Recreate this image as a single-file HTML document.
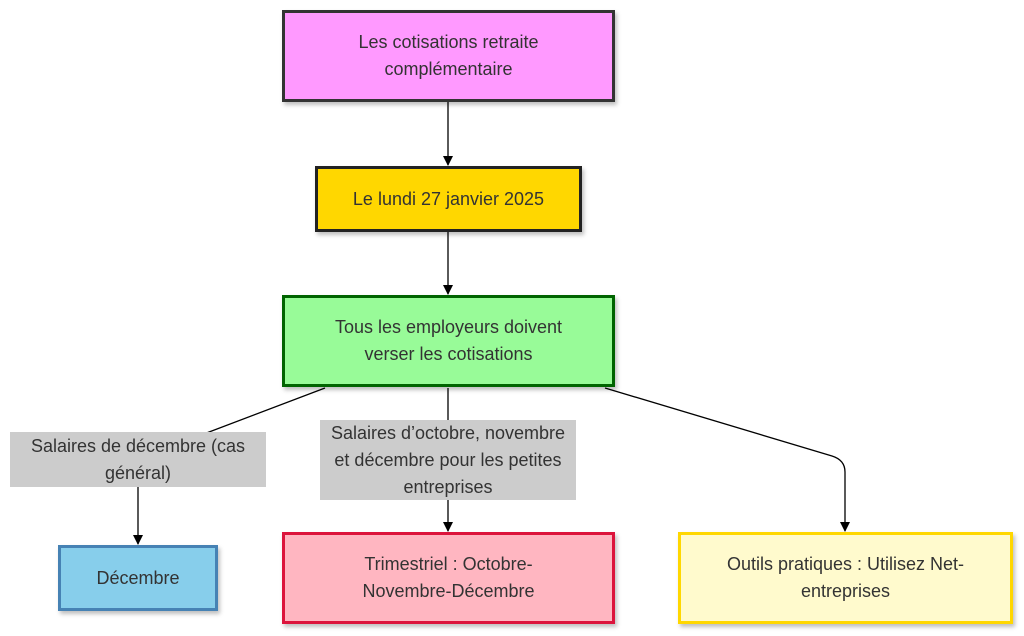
<!DOCTYPE html>
<html><head><meta charset="utf-8"><style>
body{margin:0;width:1024px;height:636px;background:#fff;position:relative;overflow:hidden;font-family:"Liberation Sans",sans-serif;}
.n{position:absolute;box-sizing:border-box;display:flex;align-items:center;justify-content:center;text-align:center;font-size:18px;color:#333;line-height:27px;box-shadow:2px 3px 4px rgba(0,0,0,0.25);}
.l{position:absolute;box-sizing:border-box;background:#cccccc;display:flex;align-items:center;justify-content:center;text-align:center;font-size:18px;color:#333;line-height:27px;}
svg{position:absolute;left:0;top:0}
</style></head><body>
<svg width="1024" height="636">
<defs><marker id="a" markerWidth="10" markerHeight="10" refX="9" refY="5" orient="auto" markerUnits="userSpaceOnUse"><path d="M0,0 L10,5 L0,10 z" fill="#000"/></marker></defs>
<g stroke="#000" stroke-width="1.3" fill="none">
<line x1="448" y1="102" x2="448" y2="165" marker-end="url(#a)"/>
<line x1="448" y1="232" x2="448" y2="294" marker-end="url(#a)"/>
<path d="M325,388 L138,459 L138,544" marker-end="url(#a)"/>
<line x1="448" y1="388" x2="448" y2="531" marker-end="url(#a)"/>
<path d="M605,388 L832,456 Q845,460 845,472 L845,531" marker-end="url(#a)"/>
</g></svg>
<div class="n" style="left:282px;top:10px;width:333px;height:92px;background:#ff99ff;border:3px solid #333">Les cotisations retraite<br>complémentaire</div>
<div class="n" style="left:315px;top:166px;width:267px;height:66px;background:#ffd700;border:3px solid #222">Le lundi 27 janvier 2025</div>
<div class="n" style="left:282px;top:295px;width:333px;height:92px;background:#98fb98;border:3px solid #006400">Tous les employeurs doivent<br>verser les cotisations</div>
<div class="l" style="left:10px;top:432px;width:256px;height:55px">Salaires de décembre (cas<br>général)</div>
<div class="l" style="left:320px;top:420px;width:256px;height:80px">Salaires d’octobre, novembre<br>et décembre pour les petites<br>entreprises</div>
<div class="n" style="left:58px;top:545px;width:160px;height:66px;background:#87ceeb;border:3px solid #4682b4">Décembre</div>
<div class="n" style="left:282px;top:532px;width:333px;height:92px;background:#ffb6c1;border:3px solid #dc143c">Trimestriel : Octobre-<br>Novembre-Décembre</div>
<div class="n" style="left:678px;top:532px;width:335px;height:92px;background:#fffacd;border:3px solid #ffd700">Outils pratiques : Utilisez Net-<br>entreprises</div>
</body></html>
